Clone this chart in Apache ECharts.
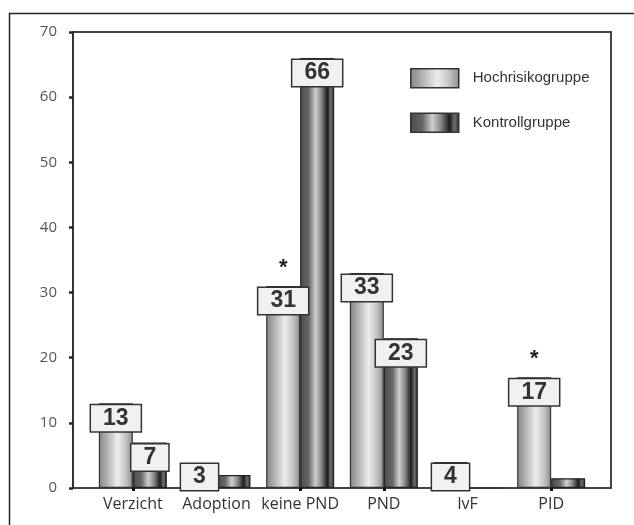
<!DOCTYPE html>
<html>
<head>
<meta charset="utf-8">
<script src="https://cdn.jsdelivr.net/npm/echarts@6/dist/echarts.min.js"></script>
<style>
  html, body { margin: 0; padding: 0; background: #fff; }
  #chart { width: 634px; height: 525px; }
</style>
</head>
<body>
<div id="chart"></div>
<script>
const categories = ["Verzicht", "Adoption", "keine PND", "PND", "IvF", "PID"];
const hochValues = [13, 3, 31, 33, 4, 17];
const kontrollValues = [7, 2, 66, 23, 0, 1.5];
const significance = ["", "", "*", "", "", "*"];
const seriesNames = ["Hochrisikogruppe", "Kontrollgruppe"];
const yMin = 0;
const yMax = 70;
const yStep = 10;

const chart = echarts.init(document.getElementById("chart"));

const hochFill = new echarts.graphic.LinearGradient(0, 0, 1, 0, [
  { offset: 0, color: "#858585" },
  { offset: 0.2, color: "#a9a9a9" },
  { offset: 0.55, color: "#ededed" },
  { offset: 0.8, color: "#c2c2c2" },
  { offset: 1, color: "#8a8a8a" },
]);
const kontrollFill = new echarts.graphic.LinearGradient(0, 0, 1, 0, [
  { offset: 0, color: "#4a4a4a" },
  { offset: 0.25, color: "#666666" },
  { offset: 0.45, color: "#cfcfcf" },
  { offset: 0.62, color: "#8a8a8a" },
  { offset: 0.8, color: "#1c1c1c" },
  { offset: 0.9, color: "#6e6e6e" },
  { offset: 1, color: "#2a2a2a" },
]);

const boxLabel = {
  show: true,
  position: "insideTop",
  distance: 2,
  fontFamily: "Liberation Sans",
  fontWeight: "bold",
  fontSize: 23,
  lineHeight: 22,
  color: "#333",
  backgroundColor: "#f1f1f1",
  borderColor: "#333",
  borderWidth: 1.5,
  padding: [2, 12, 2, 12],
};

// short bars: the box sits on the axis instead of hanging below it
const barData = (values, minLabel) =>
  values.map((v) => {
    if (v < minLabel) return { value: v, label: { show: false } };
    if (v < 5) return { value: v, label: { position: "insideBottom", distance: -2 } };
    return v;
  });

const stars = significance
  .map((s, i) => (s ? { coord: [categories[i], hochValues[i]], value: s } : null))
  .filter(Boolean);

const option = {
  animation: false,
  graphic: [
    {
      type: "rect",
      left: 7,
      top: 11,
      shape: { width: 700, height: 600 },
      style: { fill: "none", stroke: "#222", lineWidth: 1.5 },
      silent: true,
    },
  ],
  legend: {
    orient: "vertical",
    left: 405,
    top: 63,
    itemWidth: 48,
    itemHeight: 19,
    itemGap: 24,
    icon: "rect",
    data: seriesNames,
    itemStyle: { borderColor: "#333", borderWidth: 1.5 },
    textStyle: {
      fontFamily: "Liberation Sans",
      fontSize: 15,
      color: "#333",
      padding: [0, 0, 0, 9],
    },
  },
  grid: [
    {
      left: 73,
      right: 23,
      top: 32,
      bottom: 37,
      show: true,
      borderColor: "#444",
      borderWidth: 2,
    },
    { left: 91, right: 41, top: 32, bottom: 37 },
  ],
  xAxis: [
    { type: "value", gridIndex: 0, min: 0, max: 1, show: false },
    {
      type: "category",
      gridIndex: 1,
      data: categories,
      axisLine: { show: false },
      axisTick: {
        show: true,
        alignWithLabel: true,
        length: 3,
        lineStyle: { color: "#111", width: 3 },
      },
      axisLabel: {
        interval: 0,
        fontFamily: "Open Sans",
        fontSize: 16,
        color: "#333",
        margin: 8,
      },
    },
  ],
  yAxis: [
    {
      type: "value",
      gridIndex: 0,
      min: yMin,
      max: yMax,
      interval: yStep,
      axisLine: { show: true, lineStyle: { color: "#333", width: 2 } },
      axisTick: { show: true, length: 4, lineStyle: { color: "#222", width: 2.5 } },
      splitLine: { show: false },
      axisLabel: {
        fontFamily: "Open Sans",
        fontSize: 15,
        color: "#555",
        margin: 16,
      },
    },
    { type: "value", gridIndex: 1, min: yMin, max: yMax, show: false },
  ],
  series: [
    {
      name: seriesNames[0],
      type: "bar",
      xAxisIndex: 1,
      yAxisIndex: 1,
      barWidth: 34,
      barGap: "0%",
      data: barData(hochValues, 0),
      itemStyle: { color: hochFill, borderColor: "#333", borderWidth: 1.2 },
      label: boxLabel,
      markPoint: {
        symbol: "circle",
        symbolSize: 0,
        data: stars,
        label: {
          show: true,
          position: "inside",
          offset: [0, -18],
          formatter: "*",
          fontFamily: "Liberation Sans",
          fontWeight: "bold",
          fontSize: 22,
          color: "#222",
        },
      },
    },
    {
      name: seriesNames[1],
      type: "bar",
      xAxisIndex: 1,
      yAxisIndex: 1,
      barWidth: 34,
      barGap: "0%",
      data: barData(kontrollValues, 3),
      itemStyle: { color: kontrollFill, borderColor: "#222", borderWidth: 1.2 },
      label: boxLabel,
    },
  ],
};

chart.setOption(option);
</script>
</body>
</html>
